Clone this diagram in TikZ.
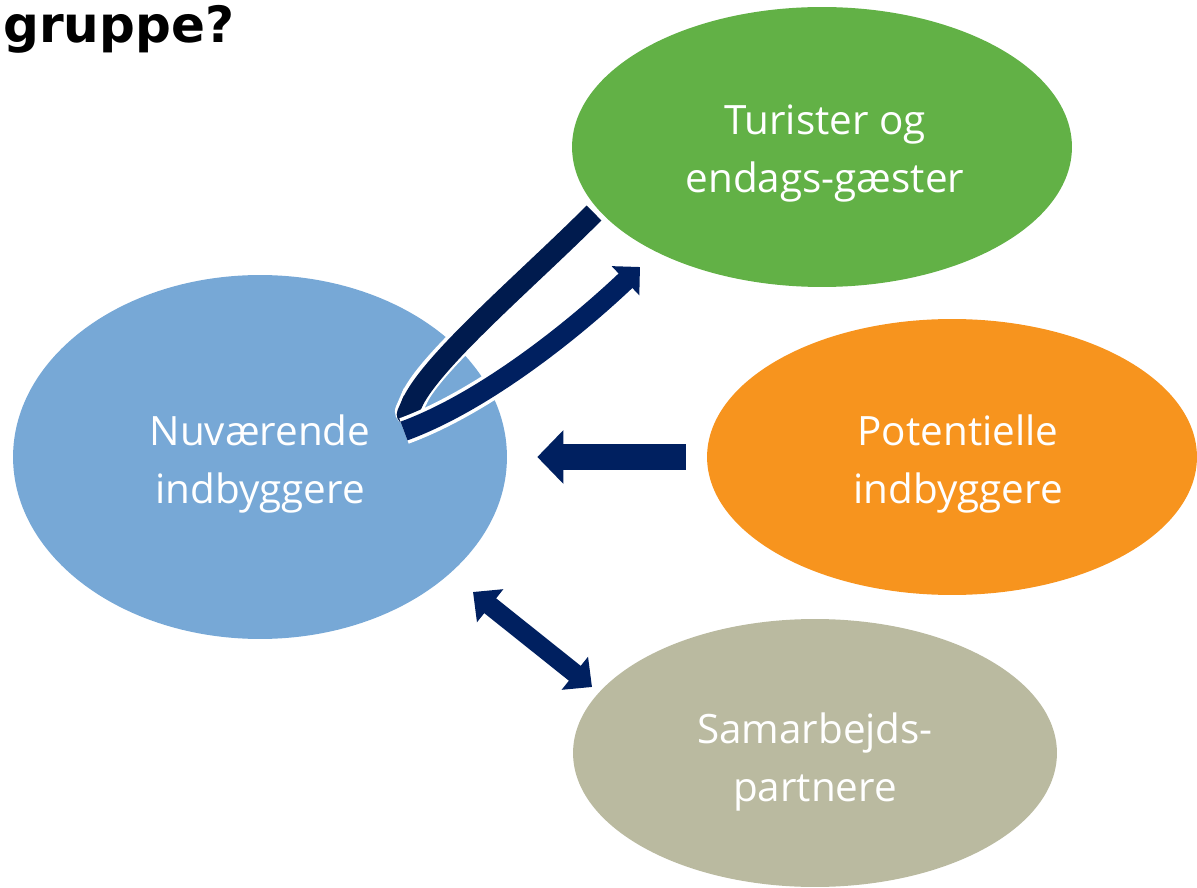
\documentclass[tikz,border=0pt]{standalone}
\usepackage{fontspec}
\setmainfont{Open Sans}
\newfontfamily\headfont{DejaVu Sans}
\usetikzlibrary{arrows.meta}
\usetikzlibrary{shapes.geometric}
\usetikzlibrary{positioning}

\definecolor{nowblue}{RGB}{119,168,214}
\definecolor{touristgreen}{RGB}{98,177,70}
\definecolor{potorange}{RGB}{247,148,30}
\definecolor{partnergrey}{RGB}{186,186,160}
\definecolor{arrownavy}{RGB}{0,32,96}
\definecolor{arrowdark}{RGB}{0,27,78}

\tikzset{
    group/.style={
        ellipse, inner sep=0pt, draw=none,
    },
    grouplabel/.style={
        text=white, align=center, inner sep=0pt,
        font=\fontsize{23}{32.5}\selectfont,
    },
    blockarrow/.style={
        draw=arrownavy, line width=0.52cm,
        -{Triangle[width=1.04cm, length=0.52cm]},
    },
    twowayarrow/.style={
        draw=arrownavy, line width=0.38cm,
        {Triangle[width=0.82cm, length=0.44cm]}-{Triangle[width=0.82cm, length=0.44cm]},
    },
    loopedge/.style={
        draw=white, line width=0.54cm,
    },
}

\begin{document}
\begin{tikzpicture}[x=0.02cm, y=-0.02cm]
        \useasboundingbox (0,0) rectangle (1197,888);

        \node (title) at(3,43) [
            anchor=base west, inner sep=0pt,
            font=\headfont\bfseries\fontsize{28.5}{34}\selectfont,
        ] {gruppe?};

        % the four groups
        \node (now) at(260,457) [
            group, fill=nowblue,
            minimum width=9.88cm, minimum height=7.28cm,
        ] {};
        \node (tourist) at(822,147) [
            group, fill=touristgreen,
            minimum width=10cm, minimum height=5.6cm,
        ] {};
        \node (pot) at(952,457) [
            group, fill=potorange,
            minimum width=9.8cm, minimum height=5.52cm,
        ] {};
        \node (partner) at(815,753) [
            group, fill=partnergrey,
            minimum width=9.68cm, minimum height=5.36cm,
        ] {};

        \node (nowtext) at([yshift=-0.14cm]now.center) [grouplabel] {Nuværende\\indbyggere};
        \node (touristtext) at([xshift=0.06cm, yshift=-0.13cm]tourist.center) [grouplabel] {Turister og\\endags-gæster};
        \node (pottext) at([xshift=0.12cm, yshift=-0.14cm]pot.center) [grouplabel] {Potentielle\\indbyggere};
        \node (partnertext) at([yshift=-0.18cm]partner.center) [grouplabel] {Samarbejds-\\partnere};

        % arrows
        \draw[blockarrow, shorten <=0.42cm, shorten >=0.6cm] (pot.west) -- (now.east);

        \coordinate (twowaynow) at(473,592);
        \coordinate (twowaypartner) at(592,687);
        \draw[twowayarrow] (twowaynow) -- (twowaypartner);

        \coordinate (loopstart) at(594,213);
        \coordinate (loopturn) at(403,424);
        \coordinate (loopback) at(404,431);
        \coordinate (looptip) at(640,267);
        \draw[loopedge, -{Round Cap[]}] (loopstart) .. controls (525,282) and (430,362) .. (loopturn);
        \draw[draw=arrowdark, line width=0.42cm, -{Round Cap[]}] (loopstart) .. controls (525,282) and (430,362) .. (loopturn);
        \draw[loopedge, shorten >=0.36cm] (loopback) .. controls (478,404) and (565,338) .. (looptip);
        \draw[draw=arrownavy, line width=0.4cm, -{Triangle[width=0.78cm, length=0.4cm]}] (loopback) .. controls (478,404) and (565,338) .. (looptip);
    \end{tikzpicture}
\end{document}
